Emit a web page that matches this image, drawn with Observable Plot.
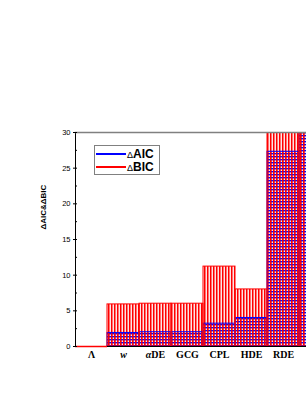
<!DOCTYPE html>
<html><head><meta charset="utf-8">
<script src="https://cdn.jsdelivr.net/npm/d3@7"></script>
<script src="https://cdn.jsdelivr.net/npm/@observablehq/plot@0.6"></script>
<style>
body{margin:0;background:#fff}
#wrap{position:relative;width:306px;height:396px;overflow:hidden;background:#fff}
#legend{position:absolute;left:94px;top:145px;width:64px;height:28px;border:1px solid #808080;background:#fff;font-family:"Liberation Sans",Arial,sans-serif}
.lline{position:absolute;left:1px;width:30px;height:2px}
.ltxt{position:absolute;left:32px;font-size:12px;font-weight:bold;line-height:12px;white-space:nowrap}
.ltxt span{font-weight:normal;font-size:9px}
</style>
</head><body><div id="wrap"></div>
<script>
const models = ["Λ", "w", "αDE", "GCG", "CPL", "HDE", "RDE", ""];
const aic = [0, 1.9, 2.0, 2.0, 3.2, 4.0, 27.3, 30];
const bic = [0, 5.9, 6.0, 6.0, 11.2, 8.0, 30, 30];
const yMajor = [0, 5, 10, 15, 20, 25, 30];
const yMinor = [2.5, 7.5, 12.5, 17.5, 22.5, 27.5];
const xTicks = [0.5, 1.5, 2.5, 3.5, 4.5, 5.5, 6.5];
const yLabel = "ΔAIC&ΔBIC";

const data = models.map((m, i) => ({m, i, aic: aic[i], bic: bic[i]}));
const zeros = data.filter(d => d.bic === 0);

const svg = Plot.plot({
  width: 306,
  height: 396,
  marginLeft: 75,
  marginRight: 0,
  marginTop: 132,
  marginBottom: 50,
  style: {fontFamily: '"Liberation Sans", Arial, sans-serif', background: "white"},
  x: {domain: [0, 231 / 32], axis: null},
  y: {domain: [0, 30], axis: null},
  marks: [
    Plot.ruleY([0], {stroke: "black"}),
    Plot.rectY(data, {x1: "i", x2: d => d.i + 1, y1: 0, y2: "bic", fill: "url(#hatchV)", clip: true}),
    Plot.rectY(data, {x1: "i", x2: d => d.i + 1, y1: 0, y2: "aic", fill: "url(#hatchH)", stroke: "#0000ff", strokeWidth: 1, clip: true}),
    Plot.rectY(data, {x1: "i", x2: d => d.i + 1, y1: 0, y2: "bic", fill: "none", stroke: "#ff0000", strokeWidth: 1, clip: true}),
    Plot.ruleY(zeros, {x1: "i", x2: d => d.i + 1, y: 0, stroke: "#ff0000", strokeWidth: 1.5}),
    Plot.ruleX([0], {stroke: "black", strokeWidth: 1}),
    Plot.frame({anchor: "top", stroke: "#808080", strokeWidth: 1.5}),
    Plot.axisY(yMajor, {tickSize: 0, tickPadding: 5, fontSize: 7.5, label: null}),
    Plot.axisY(yMajor, {tickSize: 4, dx: 2, tickFormat: () => "", label: null}),
    Plot.axisY(yMinor, {tickSize: 2, dx: 2, tickFormat: () => "", label: null}),
    Plot.axisX(xTicks, {tickSize: 0, tickPadding: 4, tickFormat: d => models[Math.floor(d)], fontSize: 10, fontWeight: "bold", fontFamily: '"Liberation Serif", "Times New Roman", serif', label: null}),
    Plot.text([yLabel], {text: d => d, frameAnchor: "left", rotate: -90, dx: -32, dy: -10, fontSize: 8, fontWeight: "bold"})
  ]
});

const s = d3.select(svg);
const defs = s.insert("defs", ":first-child");
const pv = defs.append("pattern").attr("id", "hatchV").attr("patternUnits", "userSpaceOnUse").attr("width", 3).attr("height", 3);
pv.append("rect").attr("width", 3).attr("height", 3).attr("fill", "#ffe4e4");
pv.append("rect").attr("width", 1.5).attr("height", 3).attr("fill", "#ff0000");
const ph = defs.append("pattern").attr("id", "hatchH").attr("patternUnits", "userSpaceOnUse").attr("width", 3).attr("height", 3);
ph.append("rect").attr("width", 3).attr("height", 1.4).attr("fill", "#0000ff");
ph.append("rect").attr("x", 0).attr("width", 1.5).attr("height", 3).attr("fill", "#ff0000").attr("opacity", 0.9);

s.selectAll('g[aria-label="x-axis tick label"] text').each(function () {
  const t = this.textContent;
  if (t === "w") this.setAttribute("font-style", "italic");
  else if (t === "αDE") {
    this.textContent = "";
    d3.select(this).append("tspan").attr("font-style", "italic").text("α");
    d3.select(this).append("tspan").text("DE");
  }
});

const wrap = document.getElementById("wrap");
wrap.appendChild(svg);
svg.style.position = "absolute";
svg.style.left = "0";
svg.style.top = "0";

const legend = document.createElement("div");
legend.id = "legend";
legend.innerHTML =
  '<div class="lline" style="top:7px;background:#0000ff"></div><div class="ltxt" style="top:2px"><span>Δ</span>AIC</div>' +
  '<div class="lline" style="top:20px;background:#ff0000"></div><div class="ltxt" style="top:15px"><span>Δ</span>BIC</div>';
wrap.appendChild(legend);
</script>
</body></html>
